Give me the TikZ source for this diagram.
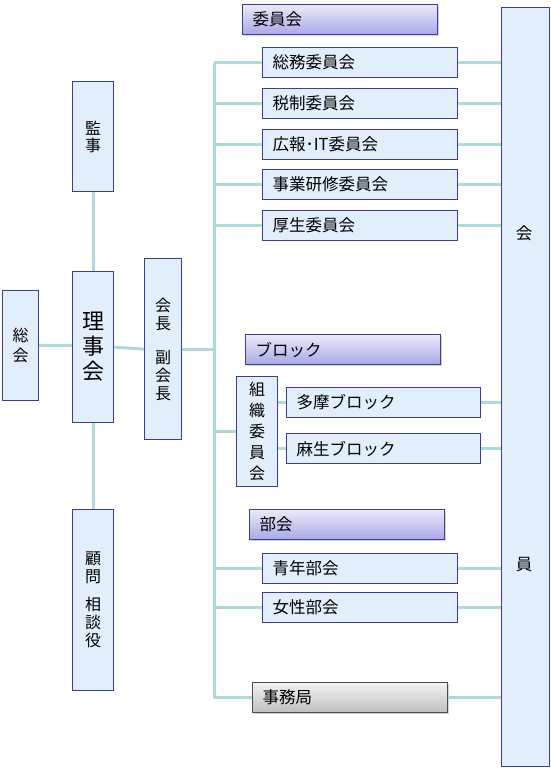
\documentclass[tikz,border=0pt]{standalone}
\usepackage{fontspec}
\setmainfont{Noto Sans CJK JP}
\usetikzlibrary{shadows}
\definecolor{boxfill}{HTML}{E1EEFB}
\definecolor{boxline}{HTML}{3C3CA0}
\definecolor{connc}{HTML}{ADD9DA}
\definecolor{headtop}{HTML}{EAEAF9}
\definecolor{headbot}{HTML}{A8A8E6}
\tikzset{
  box/.style={draw=boxline, fill=boxfill, line width=1.2pt, inner sep=0pt, anchor=north west},
  hbox/.style={box, minimum height=30pt, text width=#1, inner xsep=10pt, align=left},
  vbox/.style={box, align=center},
  head/.style={draw=boxline, line width=1.2pt, top color=headtop, bottom color=headbot,
    anchor=north west, minimum height=30pt, inner xsep=10pt, inner ysep=0pt, align=left,
    drop shadow={shadow xshift=1.5pt, shadow yshift=-1.5pt, opacity=0.35}},
  jimustyle/.style={draw=black!70, line width=1.2pt, top color=black!5, bottom color=black!25,
    anchor=north west, minimum height=30pt, inner xsep=10pt, inner ysep=0pt, align=left,
    drop shadow={shadow xshift=1.5pt, shadow yshift=-1.5pt, opacity=0.35}},
  conn/.style={draw=connc, line width=3pt},
  txt/.style={font=\fontsize{16.5}{19}\selectfont}
}
\begin{document}
\begin{tikzpicture}[x=1pt,y=-1pt]
\useasboundingbox (0,0) rectangle (550,768);
% left column
\node[vbox, minimum width=36pt, minimum height=110pt, font=\fontsize{16}{20}\selectfont] (sokai) at (2,290) {総\\会};
\node[vbox, minimum width=41pt, minimum height=151pt, font=\fontsize{22}{25}\selectfont] (riji) at (72,271) {理\\事\\会};
\node[vbox, minimum width=41pt, minimum height=110pt, font=\fontsize{16}{17}\selectfont] (kanji) at (72,81) {監\\事};
\node[vbox, minimum width=41pt, minimum height=181pt, font=\fontsize{16}{18}\selectfont] (komon) at (72,509) {顧\\問\\[10pt]相\\談\\役};
\node[vbox, minimum width=37pt, minimum height=181pt, font=\fontsize{16}{18}\selectfont] (kaicho) at (144,258) {会\\長\\[16pt]副\\会\\長};
% member column
\node[box, minimum width=48pt, minimum height=759pt] (kaiin) at (501,7) {};
\node[txt] (kai1) at (524,233) {会};
\node[txt] (kai2) at (524,565) {員};
% headers
\node[head, minimum width=195pt, text width=175pt, txt] (hiin) at (242,4) {委員会};
\node[head, minimum width=195pt, text width=175pt, txt] (hblock) at (245,334) {ブロック};
\node[head, minimum width=195pt, text width=175pt, txt] (hbukai) at (249,509) {部会};
% committees
\node[hbox=175pt, txt] (somu) at (262,47) {総務委員会};
\node[hbox=175pt, txt] (zeisei) at (262,88) {税制委員会};
\node[hbox=175pt, txt] (koho) at (262,129) {広報･IT委員会};
\node[hbox=175pt, txt] (jigyo) at (262,169) {事業研修委員会};
\node[hbox=175pt, txt] (kosei) at (262,210) {厚生委員会};
% blocks
\node[vbox, minimum width=41pt, minimum height=110pt, font=\fontsize{16}{21}\selectfont] (soshiki) at (236,376) {組\\織\\委\\員\\会};
\node[hbox=174pt, txt] (tama) at (286,387) {多摩ブロック};
\node[hbox=174pt, txt] (aso) at (286,433) {麻生ブロック};
% bukai
\node[hbox=175pt, txt] (seinen) at (262,553) {青年部会};
\node[hbox=175pt, txt] (josei) at (262,592) {女性部会};
\node[jimustyle, minimum width=195pt, text width=175pt, txt] (jimu) at (252,682) {事務局};
% connectors
\coordinate (tr) at (214,0);
\draw[conn] (somu.west -| tr) -- (jimu.west -| tr);
\draw[conn] (sokai.east) -- (sokai.east -| riji.west);
\draw[conn] (riji.east) -- (kaicho.west);
\draw[conn] (kaicho.east) -- (kaicho.east -| tr);
\draw[conn] (kanji.south) -- (riji.north);
\draw[conn] (riji.south) -- (komon.north);
\foreach \n in {somu,zeisei,koho,jigyo,kosei,seinen,josei,jimu}{
  \draw[conn] (\n.west -| tr) -- (\n.west);
  \draw[conn] (\n.east) -- (\n.east -| kaiin.west);
}
\draw[conn] (soshiki.west -| tr) -- (soshiki.west);
\draw[conn] (tama.west -| soshiki.east) -- (tama.west);
\draw[conn] (aso.west -| soshiki.east) -- (aso.west);
\draw[conn] (tama.east) -- (tama.east -| kaiin.west);
\draw[conn] (aso.east) -- (aso.east -| kaiin.west);
\end{tikzpicture}
\end{document}
